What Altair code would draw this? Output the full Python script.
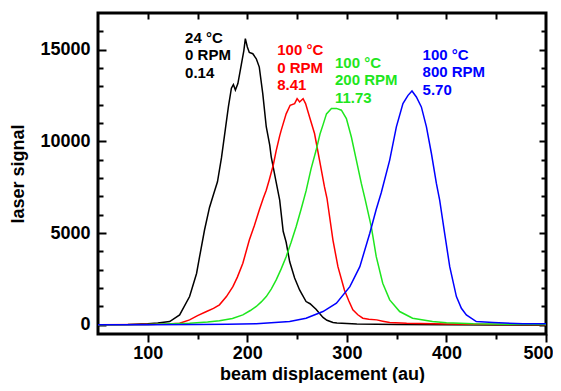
import altair as alt
import pandas as pd

# ---- data ----
series_names = ["24 °C, 0 RPM", "100 °C, 0 RPM", "100 °C, 200 RPM", "100 °C, 800 RPM"]
series_colors = ["#000000", "#ff0000", "#1ee61e", "#0000ff"]

x_black = [50, 80, 100, 110, 122, 132, 142, 149, 152, 157, 162, 166, 170, 174, 178, 181, 184, 186,
           188, 190.5, 194, 196.5, 198, 200, 202, 205.5, 209, 212, 215.5, 219, 222.5, 224, 228.5,
           232.5, 236, 239, 242.5, 247.5, 252.5, 254, 259, 263, 269, 276, 280, 286, 290, 300, 310,
           350, 400, 450, 500]
y_black = [0, 20, 60, 100, 180, 540, 1540, 2800, 3700, 5170, 6400, 7100, 7800, 9100, 10700, 11900,
           12900, 13100, 12800, 13150, 14200, 14950, 15600, 15150, 14850, 14780, 14500, 14050, 12600,
           10800, 9800, 9160, 7900, 6800, 5100, 4500, 3450, 2550, 1900, 1750, 1270, 1150, 850, 400,
           250, 125, 100, 70, 50, 20, 0, -10, -20]

x_red = [50, 100, 120, 132, 142, 150, 159, 166, 172, 179, 185.5, 190, 195.5, 202, 207, 212, 216, 219,
         222, 226, 229, 232.5, 234, 239, 243, 247.5, 250, 252.5, 256, 258.5, 262.5, 267.5, 272.5,
         277.5, 280, 286, 291, 297.5, 302, 306, 311, 316, 322, 330, 336, 343, 360, 400, 450, 500]
y_red = [0, 20, 40, 90, 270, 500, 725, 900, 1090, 1540, 2080, 2600, 3360, 4620, 5400, 6260, 6900,
         7340, 7900, 8700, 9500, 10300, 10600, 11500, 11970, 12060, 12330, 12150, 12330, 12060,
         11330, 10430, 8980, 7520, 6900, 4620, 3170, 1900, 1300, 816, 550, 360, 300, 270, 200, 125,
         80, 50, 20, 0]

x_green = [50, 100, 142, 160, 172, 185, 195.5, 203, 209, 214, 219, 224, 229, 234, 239, 244, 249, 254,
           259, 264, 269, 273, 276, 279.5, 284.5, 289.5, 294.5, 299.5, 304.5, 309.5, 314.5, 318.5,
           324.5, 329.5, 336, 343, 353, 366, 386, 400, 427, 460, 500]
y_green = [0, 20, 90, 150, 220, 350, 544, 780, 1000, 1250, 1540, 1950, 2450, 3050, 3715, 4500, 5350,
           6300, 7300, 8500, 9500, 10400, 10900, 11500, 11790, 11800, 11700, 11240, 10240, 8980, 7710,
           6800, 5350, 3715, 2270, 1360, 725, 360, 180, 120, 54, 30, 20]

x_blue = [50, 100, 150, 180, 209, 242.5, 259, 276, 289.5, 303, 313, 323, 329.5, 334.5, 343, 349.7,
          356.3, 361.4, 365.4, 369.8, 374.8, 379.9, 384.9, 389.9, 393.2, 398.2, 403.3, 410, 415, 420,
          430, 447, 477, 500]
y_blue = [0, 10, 20, 30, 54, 180, 360, 725, 1180, 2080, 3170, 4990, 6300, 7200, 8980, 10790, 12060,
          12510, 12750, 12420, 11880, 10790, 9340, 7710, 6800, 4990, 3170, 1540, 900, 544, 180, 125,
          54, 54]

ann_x = [137.5, 230, 288, 376]
ann_y = [15640, 14960, 14270, 14700]
ann_line1 = ["24 °C", "100 °C", "100 °C", "100 °C"]
ann_line2 = ["0 RPM", "0 RPM", "200 RPM", "800 RPM"]
ann_line3 = ["0.14", "8.41", "11.73", "5.70"]

x_major = [100, 200, 300, 400, 500]
x_minor = [150, 250, 350, 450]
x_top = [100, 150, 200, 250, 300, 350, 400, 450]
y_major = [0, 5000, 10000, 15000]
y_minor = [1000, 2000, 3000, 4000, 6000, 7000, 8000, 9000, 11000, 12000, 13000, 14000, 16000]

# ---- tables ----
rows = []
for name, xs, ys in zip(series_names, [x_black, x_red, x_green, x_blue],
                        [y_black, y_red, y_green, y_blue]):
    for xv, yv in zip(xs, ys):
        rows.append({"series": name, "x": xv, "y": yv})
df = pd.DataFrame(rows)

ann = pd.DataFrame({"series": series_names, "x": ann_x, "y": ann_y,
                    "l1": ann_line1, "l2": ann_line2, "l3": ann_line3})

W, H = 448, 321
FONT = "Liberation Sans"

xscale = alt.Scale(domain=[50, 500], nice=False, zero=False)
yscale = alt.Scale(domain=[-500, 17000], nice=False, zero=False)
cscale = alt.Scale(domain=series_names, range=series_colors)

tick_common = dict(domain=False, grid=False, labels=False, title=None, tickColor="black",
                   tickWidth=2)

lines = alt.Chart(df).mark_line(strokeWidth=1.5, clip=True).encode(
    x=alt.X("x:Q", scale=xscale, axis=alt.Axis(
        orient="bottom", values=x_major, format="d", title="beam displacement (au)", tickSize=8,
        tickWidth=2, tickColor="black", domain=False, grid=False, labelPadding=2,
        labelFont=FONT, labelFontSize=18, labelFontWeight="bold", labelColor="black",
        titleFont=FONT, titleFontSize=18, titleFontWeight="bold", titleColor="black",
        titlePadding=3, labelFlush=True, labelFlushOffset=7)),
    y=alt.Y("y:Q", scale=yscale, axis=alt.Axis(
        orient="left", values=y_major, format="d", title="laser signal", ticks=False,
        domain=False, grid=False, labelPadding=8, labelFont=FONT, labelFontSize=18,
        labelFontWeight="bold", labelColor="black", titleFont=FONT, titleFontSize=18,
        titleFontWeight="bold", titleColor="black", titlePadding=12)),
    color=alt.Color("series:N", scale=cscale, legend=None),
)

def carrier(xaxis, yaxis):
    return alt.Chart(df).mark_point(opacity=0).encode(
        x=alt.X("x:Q", scale=xscale, axis=xaxis),
        y=alt.Y("y:Q", scale=yscale, axis=yaxis),
    )

c1 = carrier(alt.Axis(orient="bottom", values=x_minor, tickSize=5, **tick_common),
             alt.Axis(orient="right", offset=-W, values=y_major, tickSize=8, **tick_common))
c2 = carrier(alt.Axis(orient="bottom", offset=-H, values=x_top, tickSize=6, **tick_common),
             alt.Axis(orient="right", offset=-W, values=y_minor, tickSize=5, **tick_common))
c3 = carrier(None,
             alt.Axis(orient="left", offset=-W, values=y_major, tickSize=7, **tick_common))
c4 = carrier(None,
             alt.Axis(orient="left", offset=-W, values=y_minor, tickSize=5, **tick_common))

def text_layer(field, dy):
    return alt.Chart(ann).mark_text(
        align="left", baseline="middle", font=FONT, fontSize=15, fontWeight="bold", dy=dy
    ).encode(
        x=alt.X("x:Q", scale=xscale, axis=None),
        y=alt.Y("y:Q", scale=yscale, axis=None),
        text=f"{field}:N",
        color=alt.Color("series:N", scale=cscale, legend=None),
    )

texts = text_layer("l1", 0) + text_layer("l2", 17.3) + text_layer("l3", 34.6)

chart = alt.layer(lines, c1, c2, c3, c4, texts).resolve_axis(
    x="independent", y="independent"
).properties(
    width=W, height=H,
    autosize=alt.AutoSizeParams(type="none"),
    padding={"left": 90, "top": 5, "right": 7, "bottom": 49},
    background="white",
).configure_view(stroke="black", strokeWidth=3)

chart.save("out.html", embed_options={"renderer": "svg", "actions": False})
